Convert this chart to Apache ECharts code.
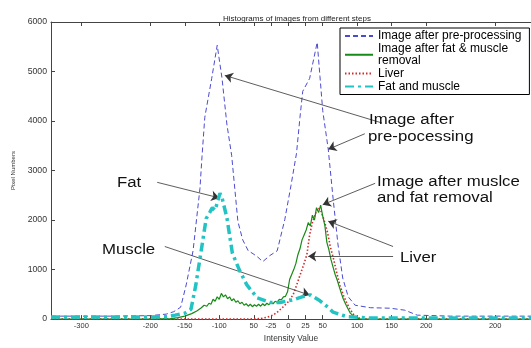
<!DOCTYPE html>
<html><head><meta charset="utf-8">
<script src="https://cdn.jsdelivr.net/npm/echarts@6/dist/echarts.min.js"></script>
<style>html,body{margin:0;padding:0;background:#fff}#c{width:531px;height:348px}</style>
</head><body><div id="c"></div>
<script>
// ---- data ----
const xTicks = [-300,-200,-150,-100,-50,-25,0,25,50,100,150,200,300];
const xTickText = ['-300','-200','-150','-100','50','-25','0','25','50','100','150','200','200'];

const blueX = [-344,-250,-200,-177,-166,-156,-148,-138,-128,-125,-121,-111,-103,-96,-89,-82,-73,-66,-58,-51,-44,-37,-27,-16,-5,4,12,17,21,31,42,46,50,58,65,72,79,87,97,119,148,169,187,235,352];
const blueY = [60,60,70,100,150,240,690,1380,2640,3290,4075,4860,5530,4860,3940,3300,1970,1600,1380,1320,1250,1160,1280,1380,2010,2700,3350,4075,4600,4860,5590,4900,4210,3430,2440,1520,830,450,280,230,220,180,80,60,60];

const greenX = [-344,-200,-170,-160,-150,-140,-132,-126,-122,-118,-115,-112,-109,-106,-103,-100,-97,-94,-91,-88,-85,-82,-79,-76,-73,-70,-67,-64,-61,-58,-55,-52,-49,-46,-43,-40,-37,-34,-31,-28,-25,-22,-19,-16,-13,-10,-7,-4,-1,2,5,8,11,14,17,20,23,26,29,32,35,38,41,44,47,50,53,56,59,62,65,68,71,74,77,80,84,90,97,105,352];
const greenY = [0,0,10,30,60,110,170,230,280,260,320,300,400,360,450,400,520,450,490,410,450,370,410,340,370,310,340,280,310,260,300,250,290,260,300,260,310,270,320,290,340,310,360,340,400,390,450,460,550,800,900,1000,1120,1300,1420,1600,1700,1800,1950,1880,2100,2000,2250,2150,2300,2080,1900,1550,1400,1200,1050,900,790,650,520,400,280,120,30,0,0];

const redX = [-344,-60,-40,-30,-22,-15,-8,0,7,12,17,22,27,31,35,40,43,47,52,57,61,66,70,75,80,85,90,95,100,110,352];
const redY = [0,0,10,40,80,150,240,350,490,680,885,1080,1300,1700,1950,2150,2250,2200,2000,1750,1460,1200,950,680,480,320,190,90,30,0,0];

const cyanX = [-344,-250,-200,-175,-164,-150,-141,-134,-126,-119,-114,-110,-106,-103,-99,-96,-89,-81,-70,-60,-45,-26,-12,7,20,32,46,58,65,85,120,352];
const cyanY = [40,40,40,50,80,120,200,690,1400,2030,2150,2250,2200,2350,2540,2450,2050,1330,965,690,430,335,335,390,450,490,370,236,140,50,20,20];

// annotation arrows: [fromX, fromY, toX, toY] in data units
const arrows = [
  [136,3960,-92,4921],
  [111,3743,58,3429],
  [-190,2762,-100,2448],
  [-179,1466,31,485],
  [126,2742,50,2311],
  [152,1466,58,1977],
  [152,1270,29,1270]
];

const zip = (xs, ys) => xs.map((x, i) => [x, ys[i]]);

const chart = echarts.init(document.getElementById('c'), null, {renderer: 'canvas'});
const axisColor = '#444';
const annFont = '14px "Liberation Sans", Arial, sans-serif';
function ann(text, x, y) {
  return {type: 'text', x: x, y: y, scaleX: 1.2, z: 50,
    style: {text: text, font: annFont, fill: '#111', verticalAlign: 'middle', align: 'left'}};
}

chart.setOption({
  animation: false,
  backgroundColor: '#fff',
  textStyle: {fontFamily: '"Liberation Sans", Arial, sans-serif'},
  grid: {left: 51, right: 0, top: 22, bottom: 20},
  xAxis: [{
    type: 'value', min: -344, max: 352,
    name: 'Intensity Value', nameLocation: 'middle', nameGap: 15,
    nameTextStyle: {fontSize: 8.4, color: '#333'},
    axisLine: {show: true, onZero: false, lineStyle: {color: axisColor}},
    axisTick: {show: true, inside: true, length: 4, customValues: xTicks, lineStyle: {color: axisColor}},
    axisLabel: {show: true, customValues: xTicks, fontSize: 7.5, color: '#333', margin: 3,
      formatter: v => { const i = xTicks.indexOf(v); return i >= 0 ? xTickText[i] : ''; }},
    splitLine: {show: false}
  }, {
    type: 'value', min: -344, max: 352, position: 'top',
    axisLine: {show: true, onZero: false, lineStyle: {color: axisColor}},
    axisTick: {show: true, inside: true, length: 4, customValues: xTicks, lineStyle: {color: axisColor}},
    axisLabel: {show: false}, splitLine: {show: false}
  }],
  yAxis: {
    type: 'value', min: 0, max: 6000, interval: 1000,
    name: 'Pixel Numbers', nameLocation: 'middle', nameGap: 29, nameRotate: 90,
    nameTextStyle: {fontSize: 6, color: '#333'},
    axisLine: {show: true, onZero: false, lineStyle: {color: axisColor}},
    axisTick: {show: true, inside: true, length: 4, lineStyle: {color: axisColor}},
    axisLabel: {fontSize: 8.7, color: '#333', margin: 4, formatter: v => String(v)},
    splitLine: {show: false}
  },
  title: {text: 'Histograms of images from different steps', left: 218, top: 10,
    textStyle: {fontSize: 8, fontWeight: 'normal', color: '#222'}},
  legend: {
    orient: 'vertical', left: 340, top: 28,
    borderColor: '#000', borderWidth: 1, backgroundColor: '#fff',
    padding: [2, 8, 2, 4], itemGap: 1, itemWidth: 28, itemHeight: 10,
    itemStyle: {opacity: 0},
    textStyle: {fontSize: 12, color: '#000', lineHeight: 11.5},
    formatter: n => n === 'Image after fat & muscle removal' ? 'Image after fat & muscle\nremoval' : n,
    data: ['Image after pre-processing', 'Image after fat & muscle removal', 'Liver', 'Fat and muscle']
  },
  series: [
    {name: 'Image after pre-processing', type: 'line', symbol: 'none', data: zip(blueX, blueY),
     lineStyle: {color: '#4b4bd0', width: 1, type: [5, 3]}, itemStyle: {color: '#4b4bd0'}, z: 2,
     markLine: {silent: true, symbol: ['none', 'arrow'], symbolSize: 8, label: {show: false},
       lineStyle: {color: '#333', width: 0.8, type: 'solid'}, itemStyle: {color: '#111'}, animation: false,
       data: arrows.map(a => [{coord: [a[0], a[1]]}, {coord: [a[2], a[3]]}])}},
    {name: 'Image after fat & muscle removal', type: 'line', symbol: 'none', data: zip(greenX, greenY),
     lineStyle: {color: '#178a17', width: 1.2}, itemStyle: {color: '#178a17'}, z: 4},
    {name: 'Liver', type: 'line', symbol: 'none', data: zip(redX, redY),
     lineStyle: {color: '#d02a2a', width: 1.6, type: [1.5, 2]}, itemStyle: {color: '#d02a2a'}, z: 3},
    {name: 'Fat and muscle', type: 'line', symbol: 'none', data: zip(cyanX, cyanY),
     lineStyle: {color: '#22c3c3', width: 3.5, type: [9, 4, 3, 4]}, itemStyle: {color: '#22c3c3'}, z: 5}
  ],
  graphic: [
    ann('Image after', 369, 120),
    ann('pre-pocessing', 368, 137),
    ann('Image after muslce', 377, 182),
    ann('and fat removal', 377, 198),
    ann('Liver', 400, 258),
    ann('Fat', 117, 183),
    ann('Muscle', 102, 250)
  ]
});
</script></body></html>
